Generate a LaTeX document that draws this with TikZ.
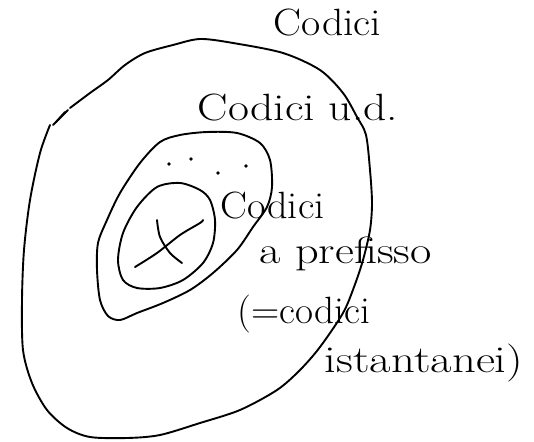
\documentclass[tikz,border=0pt]{standalone}
\usepackage{tikz}
\usepackage{graphicx}

\tikzset{
  tratto/.style={line width=1.9pt,line cap=round,line join=round},
  scritta/.style={font=\fontsize{38}{40}\selectfont,anchor=base west,inner sep=0pt},
}
% scrittura a mano: piu' larga
\newcommand{\largo}[2]{\scalebox{#1}[1]{#2}}

\begin{document}
\begin{tikzpicture}[x=1pt,y=-1pt,tratto]
  \useasboundingbox (0,0) rectangle (534,441);
  % insieme esterno: tutti i codici
  \draw plot[smooth] coordinates {(50,125) (40,153) (30,200) (24,250) (22,300) (23,350)
    (32,383) (47,410) (67,428) (90,437) (127,438) (160,435) (200,423) (240,410)
    (277,390) (300,370) (320,347) (343,313) (354,287) (363,260) (370,230) (372,203)
    (370,170) (366,135) (357,117) (343,93) (320,70) (283,53) (233,43) (200,39)
    (173,45) (145,53) (125,65) (108,80) (90,93) (70,108)};
  \draw (68,110)--(53,125);
  \draw (65,112)--(56,122);
  % codici u.d.
  \draw plot[smooth cycle] coordinates {(180,135) (207,132) (237,133) (260,143) (270,160)
    (272,187) (267,207) (253,227) (237,250) (213,273) (190,290) (163,303) (137,313)
    (120,320) (108,316) (100,300) (97,270) (98,243) (107,220) (120,193) (140,163) (160,142)};
  % codici a prefisso
  \draw plot[smooth cycle] coordinates {(180,183) (200,190) (210,200) (215,220) (213,243)
    (203,263) (183,280) (160,288) (137,288) (123,280) (118,260) (123,233) (137,207) (157,187)};
  % la croce
  \draw plot[smooth] coordinates {(135,267) (157,253) (180,235) (200,223) (203,220)};
  \draw plot[smooth] coordinates {(157,220) (160,237) (170,253) (182,263)};
  % puntini
  \foreach \p in {(169,164),(191,159),(218,173),(246,166)} \fill \p circle(1.8);
  % scritte
  \node[scritta] (codici) at (273,36) {\largo{1.1}{Codici}};
  \node[scritta] (ud) at (197,120) {\largo{1.2}{Codici u.d.}};
  \node[scritta] (pref) at (220,218) {\largo{1.06}{Codici}};
  \node[scritta] (pref2) at (259,263) {\largo{1.22}{a prefisso}};
  \node[scritta] (ist) at (237,323) {\largo{1.03}{(=codici}};
  \node[scritta] (ist2) at (324,372) {\largo{1.23}{istantanei)}};
\end{tikzpicture}
\end{document}
